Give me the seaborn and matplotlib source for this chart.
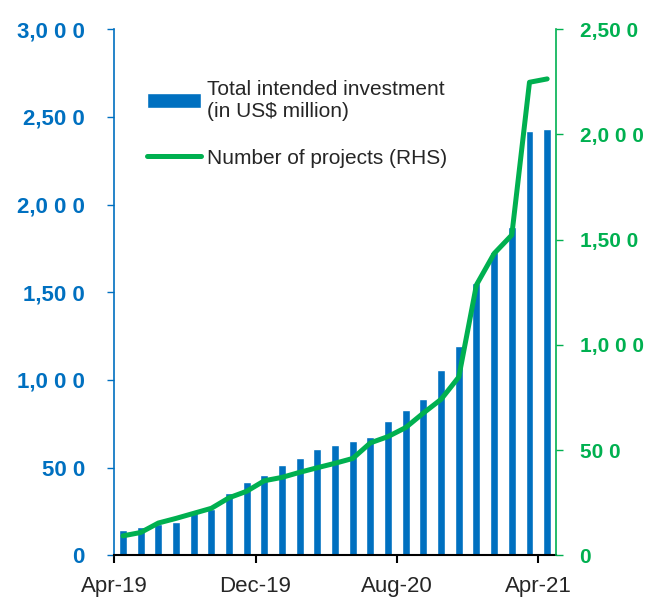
import matplotlib
matplotlib.use("Agg")
import matplotlib.pyplot as plt
import seaborn as sns
import pandas as pd

months = ["Apr-19", "May-19", "Jun-19", "Jul-19", "Aug-19", "Sep-19", "Oct-19", "Nov-19",
          "Dec-19", "Jan-20", "Feb-20", "Mar-20", "Apr-20", "May-20", "Jun-20", "Jul-20",
          "Aug-20", "Sep-20", "Oct-20", "Nov-20", "Dec-20", "Jan-21", "Feb-21", "Mar-21",
          "Apr-21"]
investment = [142, 163, 180, 187, 252, 263, 356, 417, 460, 512, 554, 606, 631,
              650, 677, 763, 831, 889, 1059, 1191, 1550, 1730, 1873, 2420, 2430]
projects = [92, 108, 153, 175, 199, 223, 273, 304, 354, 370, 394, 416, 437,
            460, 534, 564, 607, 676, 741, 847, 1285, 1434, 1522, 2248, 2264]

xtick_labels = ["Apr-19", "Dec-19", "Aug-20", "Apr-21"]
left_ticks = [0, 500, 1000, 1500, 2000, 2500, 3000]
left_labels = ["0", "50 0", "1,0 0 0", "1,50 0", "2,0 0 0", "2,50 0", "3,0 0 0"]
right_ticks = [0, 500, 1000, 1500, 2000, 2500]
right_labels = ["0", "50 0", "1,0 0 0", "1,50 0", "2,0 0 0", "2,50 0"]

blue = "#0070C0"
green = "#00B050"

sns.set_style("white")
plt.rcParams['font.family'] = ['Liberation Sans', 'DejaVu Sans']

df = pd.DataFrame({"month": months, "investment": investment, "projects": projects})
df["pos"] = range(len(df))

fig = plt.figure(figsize=(6.45, 5.97), dpi=100)
ax = fig.add_axes([0.177, 0.070, 0.685, 0.881])

sns.barplot(data=df, x="month", y="investment", order=months, color=blue,
            saturation=1, width=0.45, ax=ax, label="Total intended investment\n(in US$ million)")
ax2 = ax.twinx()
sns.lineplot(data=df, x="pos", y="projects", color=green, linewidth=3.6, ax=ax2,
             label="Number of projects (RHS)")

ax.set_xlim(-0.5, len(months) - 0.5)
ax.set_ylim(0, 3000)
ax2.set_ylim(0, 2500)
ax.set_xlabel("")
ax.set_ylabel("")
ax2.set_xlabel("")
ax2.set_ylabel("")

tick_pos = [months.index(m) - 0.5 for m in xtick_labels]
ax.set_xticks(tick_pos)
ax.set_xticklabels(xtick_labels, fontsize=16)
ax.set_yticks(left_ticks)
ax.set_yticklabels(left_labels, fontsize=16, fontweight="bold", color=blue)
ax2.set_yticks(right_ticks)
ax2.set_yticklabels(right_labels, fontsize=15, fontweight="bold", color=green)

ax.tick_params(axis="x", direction="out", length=6, width=1.5, color="black", bottom=True, pad=9)
ax.tick_params(axis="y", direction="out", length=5, width=1, color=blue, left=True, pad=16)
ax2.tick_params(axis="y", direction="out", length=5, width=1, color=green, right=True, pad=12)

for a in (ax, ax2):
    a.spines["top"].set_visible(False)
ax2.spines["left"].set_visible(False)
ax2.spines["bottom"].set_visible(False)
ax.spines["right"].set_visible(False)
ax.spines["left"].set_color(blue)
ax.spines["left"].set_linewidth(1.2)
ax2.spines["right"].set_color(green)
ax2.spines["right"].set_linewidth(1.2)
ax.spines["bottom"].set_color("black")
ax.spines["bottom"].set_linewidth(1.5)

# bars below, line on top
ax.set_zorder(1)
ax2.set_zorder(2)
ax2.patch.set_visible(False)

h1, l1 = ax.get_legend_handles_labels()
h2, l2 = ax2.get_legend_handles_labels()
if ax.get_legend() is not None:
    ax.get_legend().remove()
if ax2.get_legend() is not None:
    ax2.get_legend().remove()
ax2.legend(h1 + h2, l1 + l2, loc="upper left", bbox_to_anchor=(0.032, 0.94),
           frameon=False, fontsize=15, handlelength=2.6, handletextpad=0.3,
           labelspacing=1.35)

fig.savefig("out.png", dpi=100)
